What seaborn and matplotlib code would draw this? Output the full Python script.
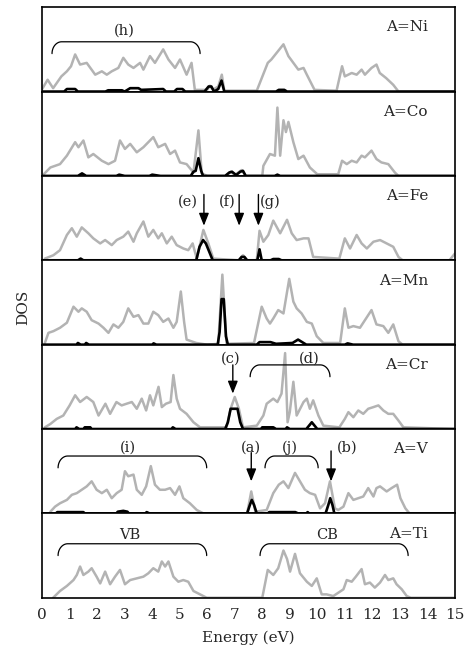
import numpy as np
import pandas as pd
import matplotlib
matplotlib.use("Agg")
import matplotlib.pyplot as plt
import seaborn as sns

# Data (energy in eV, DOS in arbitrary units 0-10 per panel)
ni_e = [0.0, 0.2, 0.4, 0.7, 0.9, 1.05, 1.2, 1.38, 1.62, 1.93, 2.17, 2.35, 2.53, 2.77, 2.95, 3.13, 3.32, 3.56, 3.68, 3.92,
        4.1, 4.4, 4.59, 4.83, 5.01, 5.25, 5.43, 5.55, 6.0, 6.1, 6.2, 6.4, 6.53, 6.62, 7.8, 8.2, 8.33, 8.77, 8.95, 9.13,
        9.31, 9.5, 9.62, 9.9, 10.7, 10.9, 11.0, 11.25, 11.43, 11.61, 11.73, 11.97, 12.15, 12.27, 12.5, 12.76, 12.95, 15.0]
ni_tot = [0.3, 1.4, 0.4, 1.8, 2.4, 3.0, 4.4, 3.2, 3.4, 2.0, 2.4, 2.0, 2.4, 2.8, 4.0, 3.2, 2.8, 3.4, 2.6, 4.2,
          3.4, 5.0, 3.8, 2.8, 3.8, 2.0, 3.4, 0.2, 0.2, 0.7, 0.2, 0.6, 2.0, 0.1, 0.1, 3.4, 3.8, 5.6, 4.2, 3.4,
          2.6, 2.8, 2.0, 0.2, 0.1, 3.0, 1.8, 2.2, 2.0, 2.6, 2.0, 2.8, 3.2, 2.2, 1.6, 0.8, 0.0, 0.0]
ni_pe = [0, 0.8, 0.9, 1.2, 1.3, 2.3, 2.4, 2.9, 3.0, 3.2, 3.5, 3.6, 4.4, 4.5, 4.8, 4.9, 5.1, 5.2, 5.9, 6.05, 6.15,
         6.25, 6.4, 6.52, 6.62, 8.5, 8.6, 8.8, 8.9, 15]
ni_p = [0, 0, 0.3, 0.3, 0, 0, 0.15, 0.15, 0, 0.4, 0.4, 0.2, 0.3, 0, 0, 0.3, 0.3, 0, 0, 0.6, 0.6,
        0, 0.3, 1.3, 0, 0, 0.2, 0.2, 0, 0]

co_e = [0, 0.3, 0.65, 0.9, 1.2, 1.32, 1.5, 1.68, 1.86, 2.17, 2.41, 2.65, 2.83, 3.01, 3.2, 3.44, 3.68, 4.04, 4.22, 4.47,
        4.65, 4.83, 5.01, 5.25, 5.5, 5.68, 5.8, 6.0, 6.7, 6.85, 7.0, 7.25, 7.4, 8.0, 8.04, 8.28, 8.46, 8.55, 8.65, 8.77,
        8.86, 8.95, 9.13, 9.31, 9.5, 9.73, 10.0, 10.76, 10.9, 11.07, 11.25, 11.43, 11.61, 11.73, 11.97, 12.15, 12.33,
        12.58, 12.82, 12.95, 15]
co_tot = [0, 1.0, 1.4, 2.4, 4.0, 3.4, 4.2, 2.2, 2.6, 1.8, 1.4, 1.8, 4.2, 3.2, 3.8, 2.8, 3.4, 4.6, 3.4, 3.8,
          2.6, 3.0, 1.6, 1.4, 0.4, 5.4, 0.3, 0, 0, 0.5, 0.1, 0.7, 0, 0, 1.2, 2.6, 2.4, 8.1, 2.4, 6.6,
          5.2, 6.4, 4.0, 2.0, 2.4, 1.0, 0.2, 0.2, 1.8, 1.4, 1.8, 1.6, 2.4, 2.2, 3.0, 2.0, 1.6,
          1.4, 0.4, 0, 0]
co_pe = [0, 1.3, 1.45, 1.6, 2.7, 2.8, 3.0, 3.9, 4.0, 4.3, 5.4, 5.5, 5.58, 5.68, 5.78, 5.85, 6.65, 6.8, 6.9, 7.05,
         7.2, 7.3, 7.4, 8.45, 8.55, 8.65, 15]
co_p = [0, 0, 0.3, 0, 0, 0.15, 0, 0, 0.15, 0, 0, 0.5, 0.6, 2.1, 0.6, 0, 0, 0.4, 0.5, 0.1,
        0.5, 0.6, 0, 0, 0.15, 0, 0]

fe_e = [0.1, 0.41, 0.65, 0.9, 1.08, 1.26, 1.44, 1.68, 1.86, 2.11, 2.29, 2.53, 2.71, 2.95, 3.13, 3.32, 3.44, 3.68, 3.86,
        4.04, 4.22, 4.35, 4.53, 4.71, 4.89, 5.13, 5.31, 5.47, 5.62, 5.86, 6.04, 6.22, 7.13, 7.3, 7.45, 7.8, 7.9, 8.04,
        8.22, 8.4, 8.65, 8.9, 9.07, 9.25, 9.5, 9.68, 9.85, 10.8, 11.0, 11.19, 11.43, 11.61, 11.8, 12.04, 12.28, 12.52,
        12.76, 12.95, 13.1, 14.8, 15.0]
fe_tot = [0.2, 0.6, 1.2, 3.0, 3.8, 2.8, 3.9, 3.2, 2.6, 2.0, 2.4, 1.8, 2.4, 2.8, 3.4, 2.2, 3.2, 4.6, 2.8,
          3.6, 2.6, 3.2, 2.0, 2.8, 1.8, 1.4, 1.2, 2.0, 0.2, 3.6, 2.0, 0.2, 0, 0.6, 0, 0, 3.5, 2.2,
          3.0, 4.7, 3.2, 4.8, 3.2, 2.4, 2.6, 2.6, 0.4, 0.2, 2.6, 1.4, 3.0, 2.0, 1.4, 2.2, 2.4, 2.0,
          1.6, 0.4, 0, 0, 0.8]
fe_pe = [0, 1.3, 1.4, 1.5, 5.6, 5.72, 5.85, 5.95, 6.1, 6.2, 7.15, 7.25, 7.35, 7.45, 7.82, 7.9, 7.98, 8.3, 8.4, 8.6,
         8.7, 15]
fe_p = [0, 0, 0.2, 0, 0, 1.6, 2.4, 2.0, 0.8, 0, 0, 0.4, 0.4, 0, 0, 1.3, 0, 0, 0.15, 0.15,
        0, 0]

mn_e = [0.1, 0.23, 0.41, 0.65, 0.9, 1.14, 1.32, 1.44, 1.62, 1.8, 2.05, 2.23, 2.41, 2.59, 2.77, 2.95, 3.13, 3.32, 3.5,
        3.68, 3.86, 4.04, 4.22, 4.4, 4.59, 4.77, 4.89, 5.04, 5.16, 5.25, 5.6, 6.0, 6.4, 6.55, 6.7, 7.7, 7.98, 8.16,
        8.28, 8.4, 8.58, 8.77, 8.98, 9.13, 9.25, 9.43, 9.62, 9.8, 9.98, 10.22, 10.83, 11.0, 11.13, 11.31, 11.55, 11.73,
        11.97, 12.15, 12.4, 12.58, 12.76, 12.95, 13.1, 15]
mn_tot = [0.2, 1.4, 1.6, 2.0, 2.6, 4.5, 3.9, 4.3, 3.9, 2.9, 2.5, 2.0, 1.4, 2.4, 2.0, 2.7, 4.3, 3.3, 3.5,
          2.5, 2.5, 3.9, 3.5, 2.7, 3.1, 2.0, 2.7, 6.3, 2.7, 0.6, 0.2, 0.0, 0.1, 8.3, 0.1, 0.2, 4.5, 3.1,
          2.5, 3.1, 4.1, 3.7, 7.8, 5.1, 4.3, 3.7, 2.7, 2.5, 1.0, 0.2, 0.2, 4.3, 2.0, 2.2, 2.0, 2.9,
          4.1, 2.4, 2.2, 1.4, 2.4, 0.4, 0, 0]
mn_pe = [0, 1.25, 1.3, 1.4, 1.55, 1.6, 1.7, 4.0, 4.05, 4.15, 6.38, 6.45, 6.52, 6.6, 6.68, 6.75, 7.8, 7.9, 8.3, 8.5,
         9.1, 9.3, 9.45, 9.6, 11.0, 11.1, 11.3, 15]
mn_p = [0, 0, 0.2, 0, 0, 0.2, 0, 0, 0.15, 0, 0, 1.5, 5.4, 5.4, 1.0, 0, 0, 0.3, 0.3, 0.1,
        0.2, 0.6, 0.3, 0, 0, 0.15, 0, 0]

cr_e = [0.1, 0.3, 0.53, 0.77, 1.0, 1.2, 1.38, 1.62, 1.86, 2.05, 2.3, 2.47, 2.7, 2.89, 3.07, 3.26, 3.44, 3.62, 3.78,
        3.92, 4.04, 4.23, 4.35, 4.5, 4.67, 4.77, 4.89, 5.01, 5.25, 5.5, 5.74, 6.7, 6.85, 7.0, 7.15, 7.3, 7.8, 8.04,
        8.16, 8.4, 8.55, 8.7, 8.83, 8.92, 9.0, 9.13, 9.25, 9.5, 9.62, 9.73, 9.85, 10.04, 10.22, 10.8, 11.0, 11.13,
        11.31, 11.49, 11.67, 11.85, 12.04, 12.22, 12.4, 12.58, 12.76, 12.95, 13.13, 15]
cr_tot = [0.2, 0.6, 1.2, 1.6, 2.8, 4.0, 3.2, 3.8, 3.2, 1.6, 3.0, 1.8, 3.2, 2.8, 3.0, 3.2, 2.4, 3.6, 2.2,
          4.0, 2.8, 5.0, 2.6, 3.0, 3.2, 6.4, 3.6, 2.4, 1.8, 0.8, 0.2, 0.2, 2.4, 3.8, 2.4, 0.2, 0.4, 1.6,
          3.0, 3.6, 3.2, 4.2, 9.0, 0.8, 2.0, 5.6, 1.6, 3.2, 3.6, 2.4, 3.4, 1.6, 0.4, 0.2, 1.2, 2.0,
          1.4, 2.2, 1.8, 2.4, 2.6, 2.8, 2.2, 1.8, 1.8, 1.0, 0.2, 0]
cr_pe = [0, 1.2, 1.25, 1.35, 1.5, 1.55, 1.75, 1.8, 4.7, 4.75, 4.85, 6.65, 6.75, 6.85, 7.1, 7.2, 7.3, 7.95, 8.0, 8.4,
         8.5, 8.85, 8.9, 9.0, 9.6, 9.8, 10.0, 15]
cr_p = [0, 0, 0.2, 0, 0, 0.2, 0.2, 0, 0, 0.2, 0, 0, 0.8, 2.4, 2.4, 0.8, 0, 0, 0.2, 0.2,
        0, 0, 0.2, 0, 0, 0.8, 0, 0]

v_e = [0.3, 0.47, 0.65, 0.9, 1.08, 1.26, 1.44, 1.62, 1.8, 1.98, 2.17, 2.35, 2.53, 2.71, 2.89, 3.01, 3.13, 3.32, 3.44,
       3.62, 3.78, 3.95, 4.1, 4.28, 4.47, 4.65, 4.83, 4.99, 5.13, 5.37, 5.62, 5.86, 7.45, 7.6, 7.75, 8.16, 8.4, 8.6,
       8.77, 8.95, 9.19, 9.37, 9.55, 9.73, 9.92, 10.1, 10.28, 10.46, 10.64, 10.76, 10.95, 11.13, 11.31, 11.49, 11.67,
       11.85, 12.04, 12.15, 12.28, 12.52, 12.7, 12.9, 13.02, 13.2, 13.35, 15]
v_tot = [0.2, 0.8, 1.2, 1.6, 2.2, 2.4, 2.8, 3.2, 3.8, 2.8, 2.4, 2.8, 1.8, 2.4, 2.8, 5.0, 4.4, 4.6, 2.8,
         2.2, 3.2, 5.6, 3.4, 2.8, 2.8, 3.0, 2.2, 3.2, 1.8, 1.2, 0.4, 0, 0, 2.6, 0.2, 0.4, 2.4, 3.4,
         3.8, 3.0, 4.8, 3.8, 2.8, 2.4, 2.2, 0.6, 1.2, 3.8, 0.6, 0.4, 0.8, 2.4, 1.6, 1.8, 2.0,
         3.0, 2.0, 3.0, 3.2, 2.6, 3.0, 3.4, 1.8, 0.6, 0, 0]
v_pe = [0, 0.5, 0.55, 1.5, 1.55, 2.7, 2.75, 2.95, 3.1, 3.15, 3.75, 3.8, 3.9, 7.45, 7.55, 7.62, 7.7, 7.8, 8.2, 8.25,
        9.2, 9.3, 9.6, 9.65, 9.7, 10.3, 10.4, 10.47, 10.55, 10.62, 15]
v_p = [0, 0, 0.15, 0.15, 0, 0, 0.2, 0.3, 0.2, 0, 0, 0.15, 0, 0, 1.0, 1.6, 1.0, 0, 0, 0.15,
       0.15, 0, 0, 0.15, 0, 0, 1.0, 1.8, 1.0, 0, 0]

ti_e = [0.4, 0.65, 0.9, 1.14, 1.26, 1.38, 1.5, 1.68, 1.8, 1.98, 2.11, 2.29, 2.47, 2.65, 2.83, 3.01, 3.2, 3.44, 3.68,
        3.86, 4.04, 4.22, 4.35, 4.47, 4.59, 4.77, 4.95, 5.13, 5.31, 5.5, 5.74, 5.98, 8.0, 8.2, 8.4, 8.58, 8.77, 8.9,
        9.01, 9.19, 9.37, 9.62, 9.8, 9.98, 10.16, 10.34, 10.58, 10.95, 11.07, 11.25, 11.4, 11.61, 11.73, 11.91, 12.09,
        12.28, 12.46, 12.58, 12.76, 12.88, 13.07, 13.25, 13.4, 15]
ti_tot = [0, 0.8, 1.4, 2.1, 2.7, 3.7, 2.7, 3.1, 3.5, 2.5, 1.7, 3.1, 1.6, 2.5, 3.3, 1.6, 2.1, 2.3, 2.5,
          2.9, 3.5, 3.1, 4.3, 3.7, 4.3, 2.5, 1.9, 2.1, 1.9, 0.8, 0.4, 0, 0, 3.3, 2.7, 3.5, 5.6, 4.6,
          3.1, 5.2, 2.9, 1.9, 1.4, 2.3, 0.4, 0.4, 0.2, 1.0, 2.1, 1.9, 2.5, 3.4, 1.6, 1.8, 1.2,
          1.8, 2.7, 2.1, 2.3, 1.6, 1.0, 0.2, 0, 0]

names = ["A=Ni", "A=Co", "A=Fe", "A=Mn", "A=Cr", "A=V", "A=Ti"]
total_x = [ni_e, co_e, fe_e, mn_e, cr_e, v_e, ti_e]
total_y = [ni_tot, co_tot, fe_tot, mn_tot, cr_tot, v_tot, ti_tot]
part_x = [ni_pe, co_pe, fe_pe, mn_pe, cr_pe, v_pe, None]
part_y = [ni_p, co_p, fe_p, mn_p, cr_p, v_p, None]

# brackets: panel, x start, x end, label, label x
brackets = [(0, 0.36, 5.74, "(h)", 2.98),
            (4, 7.56, 10.46, "(d)", 9.7),
            (5, 0.58, 5.98, "(i)", 3.13),
            (5, 8.1, 10.03, "(j)", 9.0),
            (6, 0.58, 5.98, "VB", 3.2),
            (6, 7.92, 13.3, "CB", 10.35)]
# arrows: panel, x, label, label x
arrows = [(2, 5.88, "(e)", 5.3),
          (2, 7.16, "(f)", 6.74),
          (2, 7.86, "(g)", 8.28),
          (4, 6.93, "(c)", 6.87),
          (5, 7.6, "(a)", 7.6),
          (5, 10.5, "(b)", 11.1)]

sns.set_style("white")
plt.rcParams['font.family'] = ['DejaVu Serif']
plt.rcParams['font.size'] = 10

fig, axes = plt.subplots(7, 1, figsize=(4.68, 6.54), dpi=100, sharex=True)
fig.subplots_adjust(left=0.09, right=0.972, top=0.989, bottom=0.086, hspace=0)

grey = '#b3b3b3'
for i, ax in enumerate(axes):
    sns.lineplot(x=total_x[i], y=total_y[i], ax=ax, color=grey, lw=1.8, sort=False, estimator=None)
    if part_x[i] is not None:
        sns.lineplot(x=part_x[i], y=part_y[i], ax=ax, color='black', lw=1.9, sort=False, estimator=None)
    ax.set_xlim(0, 15)
    ax.set_ylim(0, 10)
    ax.set_yticks([])
    ax.set_ylabel("")
    for s in ax.spines.values():
        s.set_color('black')
        s.set_linewidth(1.2)
    ax.text(0.935, 0.76, names[i], transform=ax.transAxes, ha='right', va='center', fontsize=11)
    ax.tick_params(axis='x', which='both', length=0)

# bracket annotations (x in data, y in axes fraction)
bracket_top = {0: 0.59, 4: 0.76, 5: 0.68, 6: 0.64}
label_y = {0: 0.72, 4: 0.83, 5: 0.78, 6: 0.74}
t = np.linspace(0, np.pi / 2, 20)
for p, x0, x1, lab, lx in brackets:
    ax = axes[p]
    tr = ax.get_xaxis_transform()
    ytop = bracket_top[p]
    ybot = ytop - 0.14
    rx = 0.35
    xl = x0 + rx - rx * np.cos(t)
    yl = ybot + (ytop - ybot) * np.sin(t)
    xs = np.concatenate([xl, (x0 + x1) - xl[::-1]])
    ys = np.concatenate([yl, yl[::-1]])
    ax.plot(xs, ys, color='black', lw=0.9, transform=tr, clip_on=False)
    ax.text(lx, label_y[p], lab, transform=tr, ha='center', va='center', fontsize=10.5)

arrow_top = {2: 0.78, 4: 0.76, 5: 0.72}
arrow_tip = {2: 0.41, 4: 0.42, 5: 0.38}
arrow_lab = {2: 0.69, 4: 0.83, 5: 0.78}
for p, x, lab, lx in arrows:
    ax = axes[p]
    tr = ax.get_xaxis_transform()
    top = arrow_top[p]
    if p == 5 and lab == "(b)":
        top = 0.74
    ax.annotate('', xy=(x, arrow_tip[p]), xytext=(x, top), xycoords=tr, textcoords=tr,
                arrowprops=dict(arrowstyle='-|>,head_length=0.75,head_width=0.3', color='black',
                                lw=1.0, shrinkA=0, shrinkB=0))
    ax.text(lx, arrow_lab[p], lab, transform=tr, ha='center', va='center', fontsize=10.5)

bottom = axes[-1]
bottom.set_xticks(range(0, 16))
bottom.tick_params(axis='x', which='major', direction='inout', length=7, width=1.2, labelsize=11, pad=4)
bottom.set_xlabel("Energy (eV)", fontsize=11, labelpad=6)
fig.text(0.05, 0.53, "DOS", rotation=90, ha='center', va='center', fontsize=11)

fig.savefig("out.png", dpi=100)
